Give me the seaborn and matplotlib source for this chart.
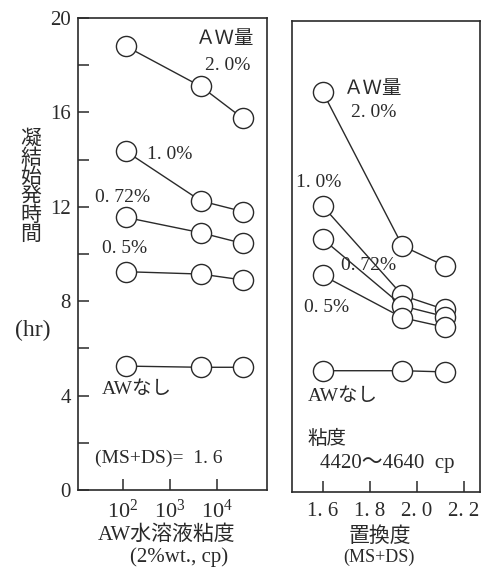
import matplotlib
matplotlib.use("Agg")
import matplotlib.pyplot as plt
import matplotlib.ticker as mticker
import seaborn as sns
import numpy as np

# left panel: viscosity of AW solution (log scale), MS+DS = 1.6
visc = [115, 4500, 35000]
# right panel: degree of substitution, viscosity 4420-4640 cp
ds = [1.6, 1.94, 2.12]

series_names = ["2.0%", "1.0%", "0.72%", "0.5%", "AWなし"]
left_vals = {
    "2.0%": [18.8, 17.1, 15.75],
    "1.0%": [14.35, 12.25, 11.8],
    "0.72%": [11.55, 10.9, 10.45],
    "0.5%": [9.25, 9.15, 8.9],
    "AWなし": [5.25, 5.2, 5.2],
}
right_vals = {
    "2.0%": [17.0, 10.45, 9.6],
    "1.0%": [12.15, 8.35, 7.75],
    "0.72%": [10.75, 7.9, 7.45],
    "0.5%": [9.2, 7.4, 7.0],
    "AWなし": [5.15, 5.15, 5.1],
}
ds_ticks = [1.6, 1.8, 2.0, 2.2]
ds_ticklabels = ["1. 6", "1. 8", "2. 0", "2. 2"]

sns.set_theme(style="ticks")
plt.rcParams["font.family"] = ["Liberation Serif", "Noto Sans CJK JP", "DejaVu Sans"]
plt.rcParams["mathtext.fontset"] = "custom"
plt.rcParams["mathtext.rm"] = "Liberation Serif"

INK = "#2a2a2a"
W, H = 488, 570
fig = plt.figure(figsize=(W / 100, H / 100), dpi=100)
fig.patch.set_facecolor("white")

def fx(px):
    return px / W

def fy(py):
    return 1 - py / H

ax1 = fig.add_axes([fx(78), fy(490), fx(267) - fx(78), fy(18) - fy(490)])
ax2 = fig.add_axes([fx(292), fy(492), fx(480) - fx(292), fy(21) - fy(492)])

line_kw = dict(color=INK, linewidth=1.0, marker="o", markersize=14.5,
               markerfacecolor="white", markeredgecolor=INK, markeredgewidth=1.0)

for name in series_names:
    sns.lineplot(x=visc, y=left_vals[name], ax=ax1, **line_kw)
    sns.lineplot(x=ds, y=right_vals[name], ax=ax2, **line_kw)

for ax in (ax1, ax2):
    ax.set_facecolor("white")
    ax.set_ylim(0, 20)
    for sp in ax.spines.values():
        sp.set_color(INK)
        sp.set_linewidth(1.2)
        sp.set_visible(True)
    ax.set_xlabel("")
    ax.set_ylabel("")

# left panel axes
ax1.set_xscale("log")
ax1.set_xlim(10 ** 1.04, 10 ** 5.06)
ax1.set_xticks([1e2, 1e3, 1e4])
ax1.xaxis.set_minor_locator(mticker.NullLocator())
ax1.set_xticklabels([r"$\mathdefault{10^{2}}$", r"$\mathdefault{10^{3}}$", r"$\mathdefault{10^{4}}$"])
ax1.yaxis.set_major_locator(mticker.MultipleLocator(4))
ax1.yaxis.set_minor_locator(mticker.MultipleLocator(2))
ax1.tick_params(axis="both", which="both", direction="in", length=8, width=1.1,
                color=INK, labelcolor=INK, labelsize=15)
ax1.tick_params(axis="y", which="both", left=True, right=False, pad=5)
ax1.tick_params(axis="x", which="both", bottom=True, top=False, pad=7, labelsize=16)

# right panel axes
ax2.set_xlim(1.47, 2.27)
ax2.set_xticks(ds_ticks)
ax2.set_xticklabels(ds_ticklabels)
ax2.tick_params(axis="x", direction="in", length=8, width=1.1, color=INK,
                labelcolor=INK, labelsize=15, pad=7, top=False)
ax2.tick_params(axis="y", which="both", left=False, right=False, labelleft=False)

tk = dict(color=INK, fontsize=14)

# left panel annotations
ax1.text(10 ** 4.17, 19.1, "ＡＷ量", ha="center", va="center", **tk)
ax1.text(10 ** 4.22, 18.0, "2. 0%", ha="center", va="center", **tk)
ax1.text(10 ** 2.51, 14.2, "1. 0%", ha="left", va="center", **tk)
ax1.text(10 ** 1.4, 12.4, "0. 72%", ha="left", va="center", **tk)
ax1.text(10 ** 1.55, 10.25, "0. 5%", ha="left", va="center", **tk)
ax1.text(10 ** 1.55, 4.25, "AWなし", ha="left", va="center", **tk)
ax1.text(10 ** 1.4, 1.36, "(MS+DS)=  1. 6", ha="left", va="center", **tk)

# right panel annotations
ax2.text(1.69, 17.1, "ＡＷ量", ha="left", va="center", **tk)
ax2.text(1.817, 16.1, "2. 0%", ha="center", va="center", **tk)
ax2.text(1.489, 13.15, "1. 0%", ha="left", va="center", **tk)
ax2.text(1.677, 9.6, "0. 72%", ha="left", va="center", **tk)
ax2.text(1.52, 7.85, "0. 5%", ha="left", va="center", **tk)
ax2.text(1.536, 4.05, "AWなし", ha="left", va="center", **tk)
ax2.text(1.536, 2.25, "粘度", ha="left", va="center", **tk)
ax2.text(1.59, 1.2, "4420〜4640  cp", ha="left", va="center", color=INK, fontsize=15)

# axis titles
fig.text(fx(31), fy(188), "\n".join("凝結始発時間"), ha="center", va="center",
         color=INK, fontsize=15, linespacing=0.98)
fig.text(fx(33), fy(330), "(hr)", ha="center", va="center", color=INK, fontsize=17)
fig.text(fx(167), fy(535), "AW水溶液粘度", ha="center", va="center", color=INK, fontsize=15)
fig.text(fx(179), fy(557), "(2%wt., cp)", ha="center", va="center", color=INK, fontsize=15)
fig.text(fx(380), fy(537), "置換度", ha="center", va="center", color=INK, fontsize=15)
fig.text(fx(379), fy(557), "(MS+DS)", ha="center", va="center", color=INK, fontsize=13)

fig.savefig("out.png", dpi=100, facecolor="white")
